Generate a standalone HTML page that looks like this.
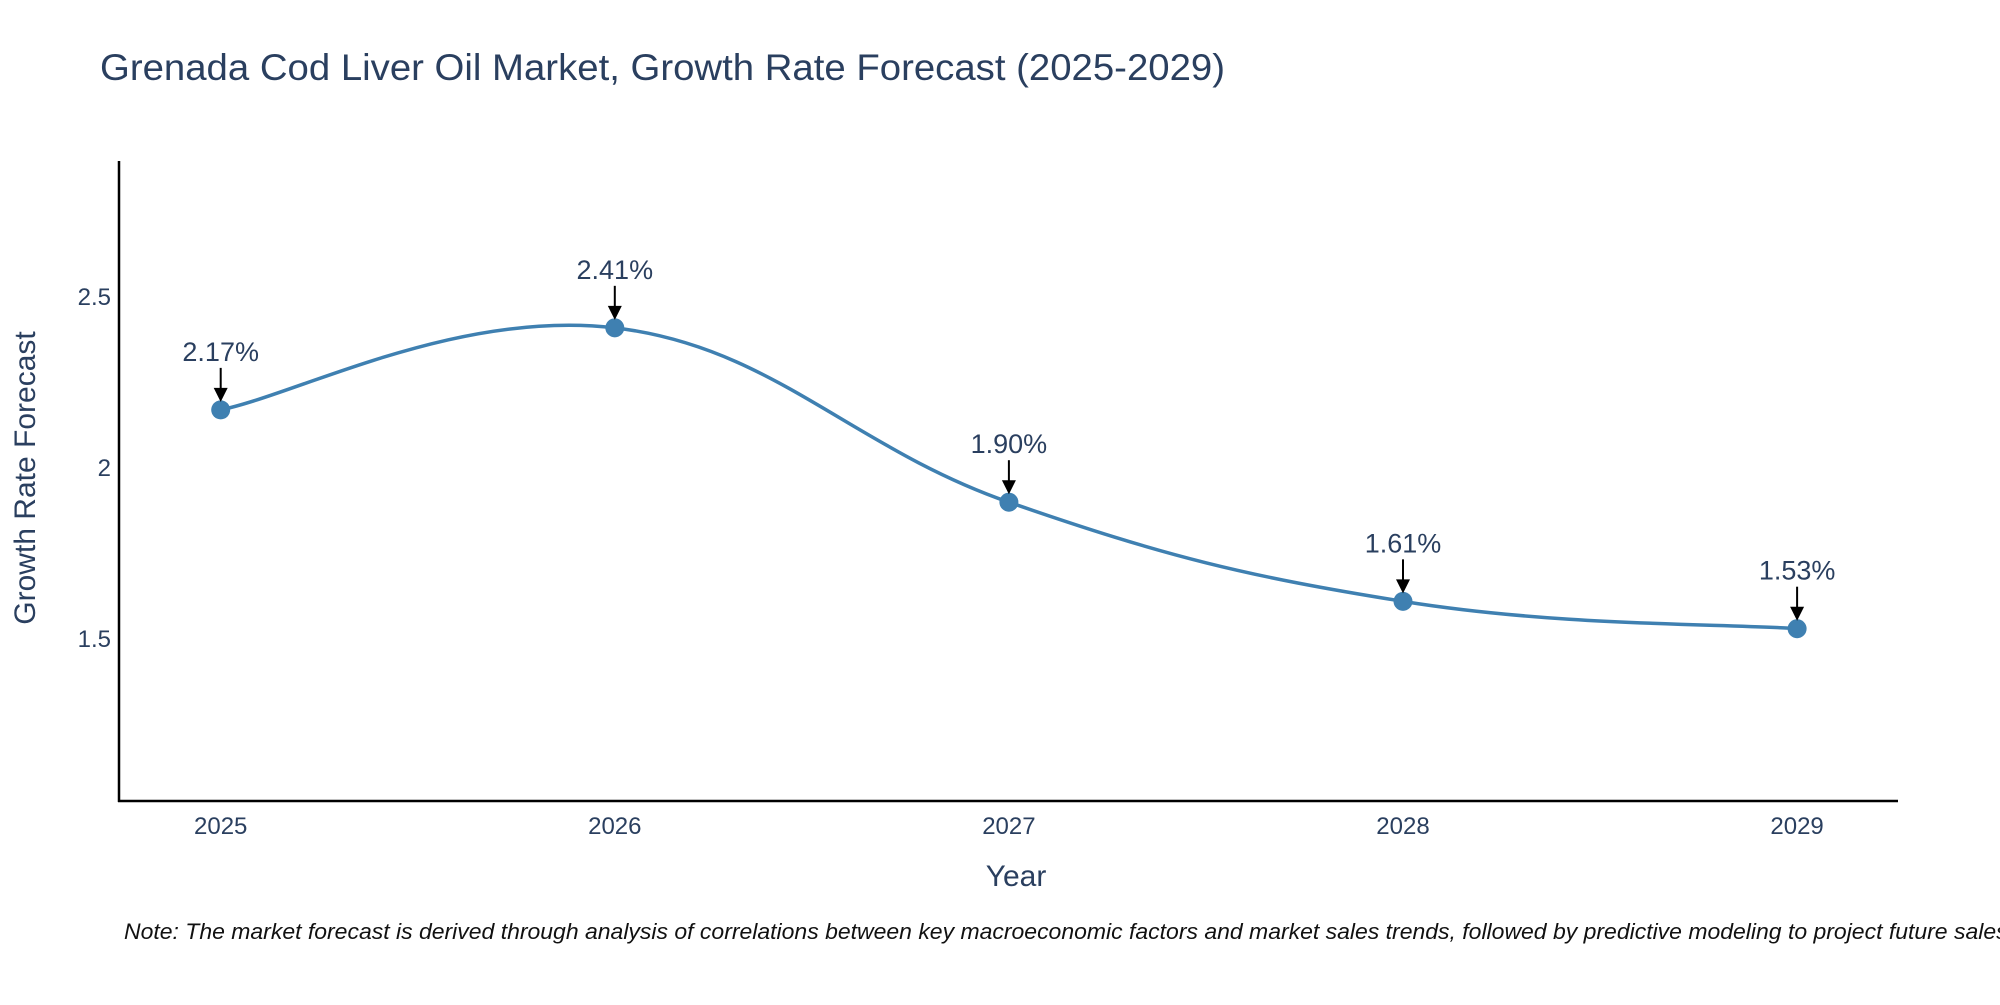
<!DOCTYPE html>
<html><head><meta charset="utf-8"><style>
html,body{margin:0;padding:0;background:#fff;}
svg text{font-family:"Liberation Sans",sans-serif;fill:#2a3f5f;}
</style></head><body>
<svg width="2000" height="1000" viewBox="0 0 2000 1000" xmlns="http://www.w3.org/2000/svg">
<rect width="2000" height="1000" fill="#fff"/>
<text x="100" y="80" font-size="37" textLength="1125" lengthAdjust="spacingAndGlyphs">Grenada Cod Liver Oil Market, Growth Rate Forecast (2025-2029)</text>
<g id="axes"></g>
<g id="marks"></g>
<text x="1016" y="886" font-size="30" text-anchor="middle">Year</text>
<text transform="translate(35,478) rotate(-90)" font-size="30" text-anchor="middle">Growth Rate Forecast</text>
<text x="124" y="939" font-size="22" font-style="italic" textLength="1890" lengthAdjust="spacingAndGlyphs" style="fill:#111">Note: The market forecast is derived through analysis of correlations between key macroeconomic factors and market sales trends, followed by predictive modeling to project future sales.</text>
</svg>
<script>
const years=[2025,2026,2027,2028,2029];
const values=[2.17,2.41,1.90,1.61,1.53];
const labels=["2.17%","2.41%","1.90%","1.61%","1.53%"];
const yTicks=[1.5,2,2.5];
const yTickLabels=["1.5","2","2.5"];
const NS="http://www.w3.org/2000/svg";
const L=119,R=1898,T=161,B=801;
const yMin=1.026,yMax=2.898;
const xs=v=>220.7+(v-2025)*394.1;
const ys=v=>B-(v-yMin)/(yMax-yMin)*(B-T);
function mk(tag,attrs,parent,txt){const e=document.createElementNS(NS,tag);for(const k in attrs)e.setAttribute(k,attrs[k]);if(txt!==undefined)e.textContent=txt;parent.appendChild(e);return e;}
const ax=document.getElementById('axes'),mg=document.getElementById('marks');
let e=mk('line',{x1:L,y1:T,x2:L,y2:B+1,stroke:'#000','stroke-width':2.5},ax);


e=mk('line',{x1:L-1,y1:B,x2:R,y2:B,stroke:'#000','stroke-width':2.5},ax);


yTicks.forEach((v,i)=>{const t=mk('text',{x:L-8,y:ys(v)+8,'font-size':24,'text-anchor':'end'},ax,yTickLabels[i]);

});
years.forEach(v=>{const t=mk('text',{x:xs(v),y:834,'font-size':24,'text-anchor':'middle'},ax,String(v));

});
const P=years.map((y,i)=>[xs(y),ys(values[i])]);
let d='M'+P[0][0]+','+P[0][1];
const s=0.2;
for(let i=0;i<P.length-1;i++){const p0=P[i-1]||P[i],p1=P[i],p2=P[i+1],p3=P[i+2]||P[i+1];
const c1=[p1[0]+(p2[0]-p0[0])*s,p1[1]+(p2[1]-p0[1])*s],c2=[p2[0]-(p3[0]-p1[0])*s,p2[1]-(p3[1]-p1[1])*s];
d+=` C${c1[0]},${c1[1]} ${c2[0]},${c2[1]} ${p2[0]},${p2[1]}`;}
e=mk('path',{d:d,fill:'none',stroke:'#3f80b1','stroke-width':3.5},mg);


P.forEach((p,i)=>{const c=mk('circle',{cx:p[0],cy:p[1],r:9.5,fill:'#3f80b1'},mg);


const a=mk('line',{x1:p[0],y1:p[1]-42,x2:p[0],y2:p[1]-20,stroke:'#000','stroke-width':2},mg);


const h=mk('polygon',{points:`${p[0]-7},${p[1]-22} ${p[0]+7},${p[1]-22} ${p[0]},${p[1]-8}`,fill:'#000'},mg);


const t=mk('text',{x:p[0],y:p[1]-49,'font-size':27,'text-anchor':'middle'},mg,labels[i]);

});
</script>
</body></html>
